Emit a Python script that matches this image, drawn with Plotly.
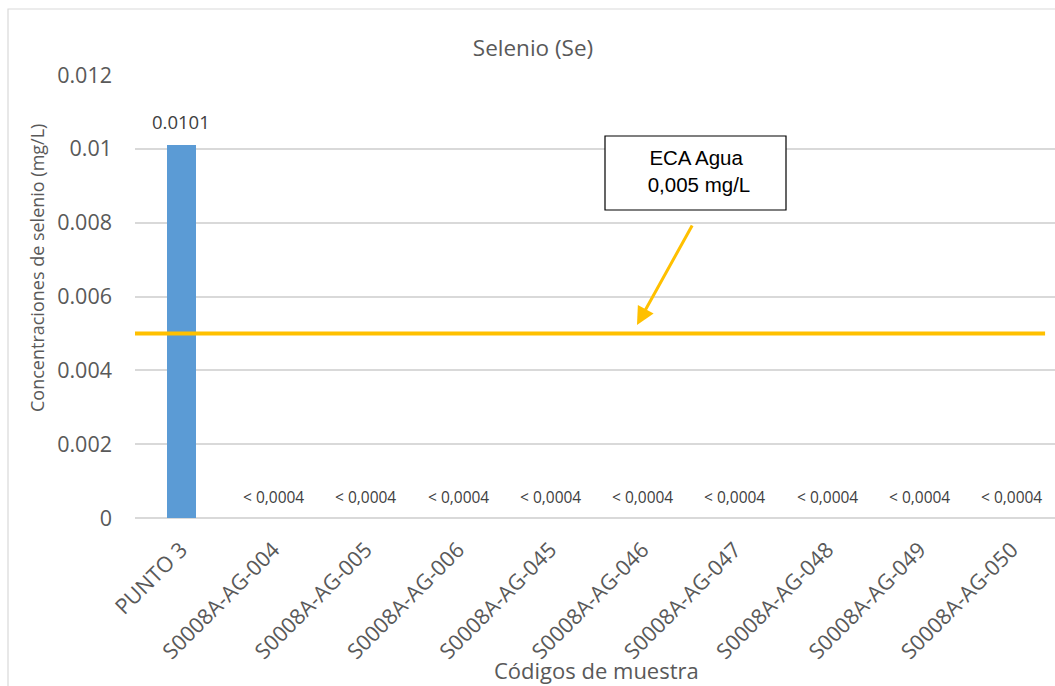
import plotly.graph_objects as go

# Sample codes and selenium concentrations (mg/L); None = below detection limit
codigos = ["PUNTO 3", "S0008A-AG-004", "S0008A-AG-005", "S0008A-AG-006",
           "S0008A-AG-045", "S0008A-AG-046", "S0008A-AG-047", "S0008A-AG-048",
           "S0008A-AG-049", "S0008A-AG-050"]
selenio = [0.0101, None, None, None, None, None, None, None, None, None]
etiquetas = ["0.0101", "< 0,0004", "< 0,0004", "< 0,0004", "< 0,0004",
             "< 0,0004", "< 0,0004", "< 0,0004", "< 0,0004", "< 0,0004"]
eca_agua = 0.005
y_ticks = [0, 0.002, 0.004, 0.006, 0.008, 0.01, 0.012]

W, H = 1055, 686
ML, MT, MB = 135, 75, 168
PW, PH = W - ML, H - MT - MB
SLOT = 92.3  # pixel width of one category


def px(x):
    return (x - ML) / PW


def py(y):
    return (H - MB - y) / PH


GRAY = "#595959"
FONT = "Open Sans"

fig = go.Figure()
fig.add_trace(go.Bar(
    x=codigos, y=[v if v is not None else 0 for v in selenio],
    width=0.314, marker=dict(color="#5B9BD5", line=dict(width=0)),
    hoverinfo="x+y", showlegend=False,
))

annotations = []
for i, (c, v, t) in enumerate(zip(codigos, selenio, etiquetas)):
    if v is not None:
        annotations.append(dict(x=c, y=v, xref="x", yref="y", text=t, showarrow=False,
                                yanchor="middle", yshift=24,
                                font=dict(family=FONT, size=18.5, color="#404040")))
    else:
        annotations.append(dict(x=c, y=0, xref="x", yref="y", text=t, showarrow=False,
                                yanchor="middle", yshift=21.5,
                                font=dict(family=FONT, size=15.5, color="#404040")))

# ECA reference line
shapes = [
    dict(type="line", xref="x", yref="y", x0=-0.543, x1=9.36, y0=eca_agua, y1=eca_agua,
         line=dict(color="#FFC000", width=4), layer="above"),
    # outer chart frame
    dict(type="rect", xref="paper", yref="paper", x0=px(8), x1=px(1100), y0=py(720), y1=py(9),
         line=dict(color="#D9D9D9", width=1.2), fillcolor="rgba(0,0,0,0)", layer="below"),
    # callout box
    dict(type="rect", xref="paper", yref="paper", x0=px(605), x1=px(786), y0=py(210), y1=py(136),
         line=dict(color="#000000", width=1.2), fillcolor="white", layer="above"),
]

annotations += [
    dict(xref="paper", yref="paper", x=px(696), y=py(171), text="ECA Agua<br> 0,005 mg/L",
         showarrow=False, xanchor="center", yanchor="middle",
         font=dict(family="Liberation Sans", size=20.5, color="#000000")),
    # arrow pointing to the ECA line
    dict(xref="x", yref="y", x=(637 - ML) / SLOT - 0.5, y=(H - MB - 325) / PH * 0.012,
         ax=56, ay=-101, text="", showarrow=True, arrowhead=2, arrowsize=1.2,
         arrowwidth=3, arrowcolor="#FFC000"),
    dict(xref="paper", yref="paper", x=px(596), y=py(670), text="Códigos de muestra",
         showarrow=False, xanchor="center", yanchor="middle",
         font=dict(family=FONT, size=22, color=GRAY)),
    dict(xref="paper", yref="paper", x=px(37), y=py(268),
         text="Concentraciones de selenio (mg/L)", textangle=-90,
         showarrow=False, xanchor="center", yanchor="middle",
         font=dict(family=FONT, size=18, color=GRAY)),
]

fig.update_layout(
    width=W, height=H,
    margin=dict(l=ML, r=0, t=MT, b=MB),
    paper_bgcolor="white", plot_bgcolor="white",
    title=dict(text="Selenio (Se)", x=533 / W, xref="container", xanchor="center",
               y=1 - 48 / H, yref="container", yanchor="middle",
               font=dict(family=FONT, size=22.5, color=GRAY)),
    xaxis=dict(type="category", range=[-0.5, -0.5 + PW / SLOT], tickangle=-45,
               tickfont=dict(family=FONT, size=21.5, color=GRAY),
               showgrid=False, showline=False, ticks="", ticklabelstandoff=14,
               fixedrange=True),
    yaxis=dict(range=[0, 0.012], tickvals=y_ticks,
               ticktext=[("%g" % v) for v in y_ticks],
               tickfont=dict(family=FONT, size=21.5, color=GRAY),
               showgrid=True, gridcolor="#D9D9D9", gridwidth=1.5,
               zeroline=True, zerolinecolor="#D9D9D9", zerolinewidth=1.5,
               showline=False, ticks="", ticklabelstandoff=22),
    shapes=shapes,
    annotations=annotations,
    showlegend=False,
    bargap=0,
)

fig.write_html("out.html")
